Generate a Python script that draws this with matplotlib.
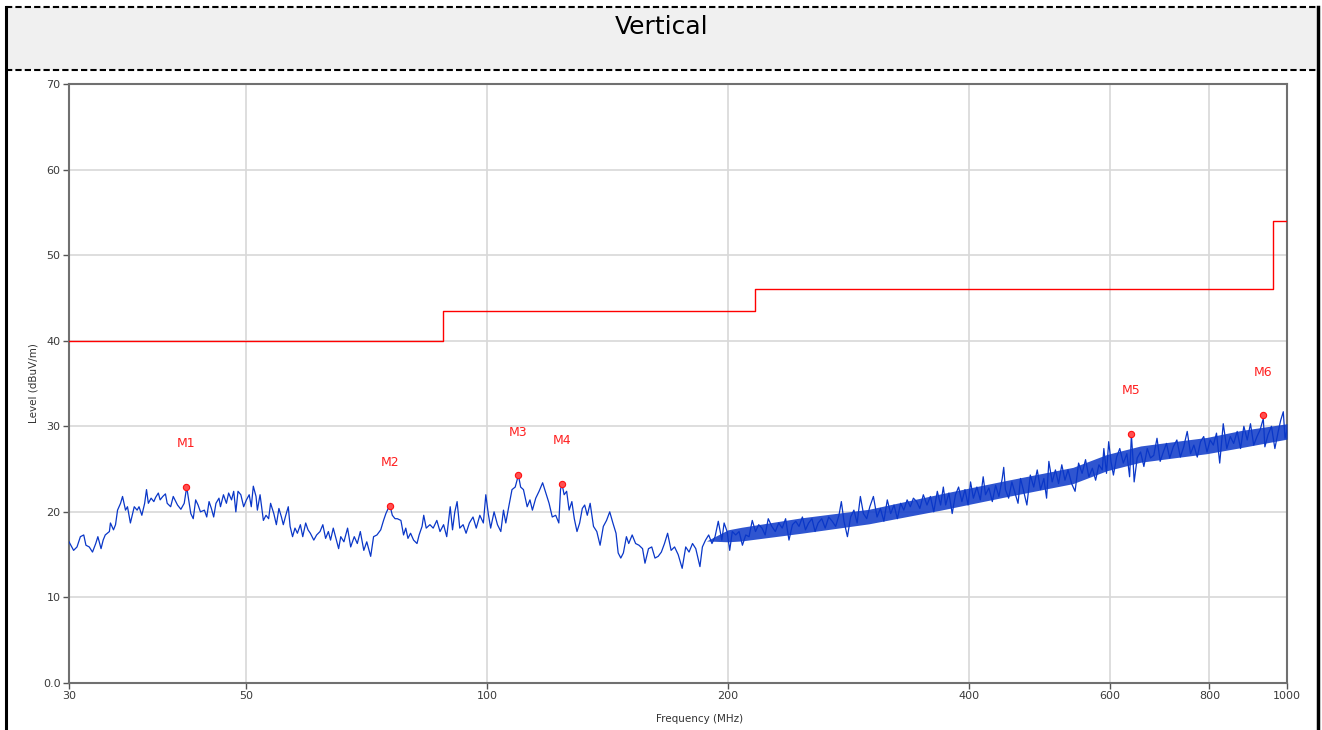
import numpy as np
import matplotlib.pyplot as plt
from matplotlib.lines import Line2D
from matplotlib.patches import Rectangle

trace_freq = [
    30.0, 30.4, 30.7, 31.0, 31.3, 31.5, 31.8, 32.1, 32.4, 32.6, 32.9, 33.1, 33.3, 33.7,
    33.8, 34.1, 34.3, 34.5, 34.8, 35.0, 35.3, 35.5, 35.8, 36.2, 36.5, 36.7, 37.0, 37.3,
    37.5, 37.7, 38.0, 38.3, 38.5, 38.8, 39.0, 39.3, 39.6, 39.8, 40.2, 40.5, 41.0, 41.4,
    41.8, 42.1, 42.4, 42.6, 42.9, 43.2, 43.5, 43.8, 44.3, 44.6, 44.9, 45.2, 45.5, 45.8,
    46.2, 46.4, 46.8, 47.2, 47.5, 47.9, 48.2, 48.5, 48.8, 49.2, 49.6, 50.0, 50.4, 50.7,
    51.0, 51.4, 51.6, 52.0, 52.3, 52.5, 52.9, 53.3, 53.6, 54.1, 54.5, 54.9, 55.3, 55.6,
    56.0, 56.4, 56.7, 57.1, 57.5, 57.9, 58.4, 58.8, 59.3, 59.7, 60.1, 60.7, 61.2, 61.8,
    62.3, 62.8, 63.3, 63.7, 64.2, 64.7, 65.2, 65.6, 66.2, 66.9, 67.5, 68.2, 68.8, 69.4,
    70.1, 70.7, 71.5, 72.1, 72.8, 73.6, 74.2, 74.7, 75.2, 75.6, 76.1, 76.7, 77.2, 78.0,
    78.6, 79.1, 79.6, 80.2, 80.9, 81.7, 82.2, 82.9, 83.3, 83.9, 84.8, 85.6, 86.5, 87.3,
    88.2, 89.0, 89.9, 90.5, 91.1, 91.7, 92.4, 93.3, 94.1, 95.0, 96.0, 96.9, 97.9, 98.9,
    99.6, 100.3, 101.0, 102.0, 103.0, 104.0, 104.8, 105.5, 106.4, 107.4, 108.4, 109.4,
    110.1, 111.0, 112.2, 113.1, 113.9, 115.0, 116.1, 117.3, 118.4, 119.5, 120.6, 121.8,
    122.9, 123.5, 124.0, 124.8, 125.7, 126.6, 127.6, 128.5, 129.5, 130.5, 131.5, 132.4,
    133.4, 134.5, 135.8, 137.1, 138.4, 139.7, 141.0, 142.3, 143.6, 144.9, 145.8, 146.9,
    148.0, 149.3, 150.3, 151.8, 153.3, 154.8, 156.4, 157.5, 159.1, 160.6, 162.1, 163.6,
    165.1, 166.6, 168.1, 169.8, 171.5, 173.3, 175.3, 177.1, 178.8, 180.6, 182.3, 184.5,
    185.8, 187.5, 189.2, 191.0, 192.7, 194.5, 196.5, 197.8, 199.5, 201.0, 202.5, 204.5,
    206.5, 208.5, 210.5, 212.5, 214.5, 216.5, 218.5, 220.6, 222.6, 224.6, 226.9, 229.2,
    231.5, 233.8, 236.1, 238.4, 240.8, 243.1, 245.4, 247.8, 250.0, 252.3, 254.7, 257.0,
    259.3, 262.0, 264.6, 267.3, 270.0, 272.7, 275.3, 277.2, 279.3, 282.1, 284.7, 287.4,
    290.1, 292.8, 295.4, 298.2, 300.9, 304.0, 307.2, 310.2, 313.3, 316.4, 319.5, 322.6,
    325.7, 328.8, 331.8, 335.0, 338.1, 341.1, 344.3, 347.5, 351.0, 354.7, 358.2, 361.7,
    365.4, 368.9, 371.8, 374.3, 377.8, 381.4, 385.0, 388.5, 392.2, 395.7, 399.3, 402.1,
    405.4, 409.5, 413.6, 417.0, 419.8, 423.9, 428.1, 432.2, 436.3, 440.5, 442.4, 444.6,
    448.7, 452.9, 457.0, 461.0, 464.3, 468.0, 472.9, 477.6, 482.3, 487.2, 491.9, 496.6,
    500.5, 503.8, 508.6, 513.4, 518.1, 522.9, 527.7, 532.4, 537.9, 543.3, 548.8, 554.4,
    559.9, 565.3, 571.0, 576.4, 581.9, 587.5, 590.2, 594.7, 598.5, 602.4, 606.7, 612.3,
    617.9, 624.2, 630.7, 635.6, 638.9, 642.1, 644.0, 649.7, 656.0, 662.3, 668.8, 675.1,
    681.4, 687.8, 694.1, 700.4, 706.8, 713.5, 720.8, 728.3, 735.6, 742.8, 750.3, 757.6,
    764.8, 772.3, 779.6, 786.8, 794.3, 801.6, 808.9, 816.3, 823.9, 832.3, 840.9, 849.3,
    857.7, 866.4, 874.8, 883.2, 891.8, 900.2, 908.6, 917.2, 925.6, 934.0, 938.3, 946.7,
    956.2, 965.7, 975.1, 982.0, 989.4, 994.3, 1000.0,
]
trace_level = [
    16.5, 15.5, 15.9, 17.1, 17.3, 16.1, 15.9, 15.3, 16.3, 17.1, 15.7, 16.7, 17.3, 17.7,
    18.7, 17.9, 18.5, 20.2, 21.0, 21.8, 20.2, 20.6, 18.7, 20.6, 20.2, 20.6, 19.6, 21.0,
    22.6, 21.0, 21.6, 21.2, 21.7, 22.2, 21.4, 21.8, 22.1, 21.0, 20.6, 21.8, 20.8, 20.3,
    21.0, 22.9, 21.0, 19.8, 19.2, 21.4, 20.8, 20.0, 20.2, 19.4, 21.2, 20.4, 19.4, 21.0,
    21.6, 20.6, 22.0, 21.0, 22.2, 21.4, 22.4, 20.0, 22.4, 22.0, 20.6, 21.4, 22.0, 20.6,
    23.0, 21.8, 20.2, 22.0, 20.2, 19.0, 19.6, 19.2, 21.0, 19.8, 18.5, 20.4, 19.4, 18.5,
    19.6, 20.6, 18.3, 17.1, 18.1, 17.5, 18.5, 17.1, 18.7, 17.9, 17.5, 16.7, 17.3, 17.7,
    18.5, 16.9, 17.7, 16.7, 18.1, 16.9, 15.7, 17.1, 16.5, 18.1, 15.9, 17.1, 16.3, 17.7,
    15.5, 16.5, 14.8, 17.1, 17.3, 17.9, 19.0, 19.8, 20.4, 20.7, 19.6, 19.2, 19.2, 19.0,
    17.3, 18.1, 16.9, 17.5, 16.7, 16.3, 17.3, 18.3, 19.6, 18.1, 18.5, 18.1, 19.0, 17.7,
    18.5, 17.1, 20.6, 17.9, 20.0, 21.2, 18.1, 18.5, 17.5, 18.7, 19.4, 18.1, 19.6, 18.7,
    22.0, 19.8, 18.1, 20.0, 18.5, 17.7, 20.2, 18.7, 20.6, 22.6, 22.9, 24.3,
    22.9, 22.6, 20.6, 21.4, 20.2, 21.6, 22.4, 23.4, 22.2, 21.0, 19.4, 19.6,
    18.7, 22.6, 23.3, 22.0, 22.4, 20.2, 21.2, 19.2, 17.7, 18.7, 20.4, 20.8,
    19.6, 21.0, 18.3, 17.7, 16.1, 18.3, 19.0, 20.0, 18.7, 17.5, 15.2, 14.6,
    15.2, 17.1, 16.3, 17.3, 16.3, 16.1, 15.7, 14.0, 15.7, 15.9, 14.6, 14.8,
    15.3, 16.3, 17.5, 15.5, 15.9, 15.0, 13.4, 15.9, 15.3, 16.3, 15.7, 13.6,
    15.9, 16.7, 17.3, 16.3, 17.1, 18.9, 16.7, 18.7, 17.7, 15.5, 17.7, 17.3,
    17.7, 16.1, 17.3, 17.1, 19.0, 17.7, 18.5, 18.1, 17.3, 19.2, 18.3, 17.7,
    18.7, 18.1, 19.2, 16.7, 18.5, 18.9, 18.3, 19.4, 17.9, 18.7, 19.2, 17.7,
    18.7, 19.2, 18.1, 19.4, 18.9, 18.3, 19.6, 21.2, 18.9, 17.1, 19.4, 20.2,
    18.7, 21.8, 19.8, 19.2, 20.6, 21.8, 19.4, 20.4, 18.9, 21.4, 19.8, 20.8,
    19.2, 21.0, 20.2, 21.4, 20.6, 21.6, 21.2, 20.4, 22.0, 20.8, 21.8, 20.0,
    22.4, 20.8, 22.9, 20.8, 22.2, 19.8, 22.0, 22.9, 21.2, 22.6, 20.8, 23.5,
    21.6, 22.9, 21.4, 24.1, 22.0, 22.8, 21.2, 23.1, 21.8, 23.9, 25.2, 22.6,
    21.6, 23.5, 22.2, 21.0, 23.9, 22.6, 20.8, 24.3, 22.9, 24.9, 22.6, 23.9,
    21.6, 25.9, 23.5, 24.9, 23.3, 25.5, 23.7, 24.9, 23.3, 22.4, 25.7, 24.5,
    26.1, 24.1, 25.1, 23.7, 25.5, 24.9, 27.4, 24.5, 28.2, 25.9, 24.3, 26.4,
    27.4, 25.7, 26.8, 24.1, 29.0, 25.9, 23.5, 26.3, 27.0, 25.3, 27.4, 26.3,
    26.6, 28.6, 25.9, 27.0, 28.0, 26.3, 27.6, 28.4, 26.4, 27.6, 29.4, 26.8,
    27.8, 26.4, 28.2, 28.8, 27.0, 28.4, 27.8, 29.2, 25.7, 30.3, 27.4, 28.8,
    28.0, 29.4, 27.4, 30.0, 28.4, 30.3, 27.8, 28.8, 29.6, 30.9, 27.6, 29.0,
    30.0, 27.4, 29.4, 30.7, 31.7, 28.6, 29.6,
]

# dense noise core of the scan above ~190 MHz (lower / upper edge)
band_freq = [188, 200, 208, 247, 300, 369, 442, 540, 595, 656, 721, 794, 875, 1000]
band_low = [16.6, 16.5, 16.6, 17.5, 18.6, 20.2, 21.7, 23.3, 24.8, 25.8, 26.3, 26.8, 27.5, 28.5]
band_high = [16.6, 17.9, 18.2, 19.3, 20.3, 22.1, 23.6, 25.2, 26.7, 27.7, 28.2, 28.7, 29.5, 30.3]

# limit line (step edges)
limit_freq = [30, 88, 216, 961, 1000]
limit_level = [40, 43.5, 46, 54, 54]

# peak markers
marker_names = ["M1", "M2", "M3", "M4", "M5", "M6"]
marker_freq = [42.0, 75.6, 109.3, 124.0, 638.9, 933.0]
marker_level = [22.9, 20.7, 24.3, 23.3, 29.1, 31.3]

xticks = [30, 50, 100, 200, 400, 600, 800, 1000]
yticks = [0, 10, 20, 30, 40, 50, 60, 70]

W, H = 1322, 730
fig = plt.figure(figsize=(W / 100, H / 100), dpi=100)

# header band with title
fig.patches.append(Rectangle((7 / W, 1 - 70 / H), (1316 - 7) / W, 63 / H,
                             transform=fig.transFigure, facecolor="#f0f0f0",
                             edgecolor="none", zorder=0))
for yy in (7, 70):
    fig.lines.append(Line2D([6 / W, 1318 / W], [1 - yy / H, 1 - yy / H],
                            transform=fig.transFigure, color="black", lw=1.5,
                            linestyle=(0, (3, 1.5))))
fig.lines.append(Line2D([6 / W, 6 / W], [0, 1 - 7 / H], transform=fig.transFigure,
                        color="black", lw=2.2))
fig.lines.append(Line2D([1318 / W, 1318 / W], [0, 1 - 7 / H], transform=fig.transFigure,
                        color="black", lw=2.5))
fig.text(662 / W, 1 - 27 / H, "Vertical", ha="center", va="center",
         fontsize=18, color="black")

ax = fig.add_axes([69 / W, 1 - 683 / H, (1287 - 69) / W, (683 - 84) / H])
ax.set_xscale("log")
ax.set_xlim(30, 1000)
ax.set_ylim(0, 70)

blue = "#0a37c8"
ax.fill_between(band_freq, band_low, band_high, color=blue, lw=0, alpha=0.85, zorder=3)
ax.plot(trace_freq, trace_level, color=blue, lw=0.9, zorder=4)
ax.step(limit_freq, limit_level, where="post", color="#ff0000", lw=1.0, zorder=5)

ax.plot(marker_freq, marker_level, "o", ms=4.5, mfc="#ff5050", mec="#ff1010",
        mew=0.8, zorder=6)
for name, f, lv in zip(marker_names, marker_freq, marker_level):
    ax.annotate(name, (f, lv), xytext=(0, 31), textcoords="offset points",
                ha="center", va="center", fontsize=9, color="#ff2020")

ax.set_xticks(xticks)
ax.set_xticklabels([str(t) for t in xticks])
ax.xaxis.set_minor_locator(plt.NullLocator())
ax.set_yticks(yticks)
ax.set_yticklabels(["0.0"] + [str(t) for t in yticks[1:]])

ax.grid(True, color="#d8d8d8", lw=1.2, zorder=0)
ax.set_axisbelow(True)
for s in ax.spines.values():
    s.set_color("#707070")
    s.set_linewidth(1.5)
ax.tick_params(length=4, width=1, color="#555555", labelsize=8,
               labelcolor="#3a3a3a", pad=2)

ax.set_xlabel("Frequency (MHz)", fontsize=7.5, color="#333333")
ax.xaxis.set_label_coords((700 - 69) / 1218, -(714 - 683) / 599)
ax.set_ylabel("Level (dBuV/m)", fontsize=7.5, color="#333333")
ax.yaxis.set_label_coords(-(69 - 38) / 1218, 0.5)

fig.savefig("out.png", dpi=100)
